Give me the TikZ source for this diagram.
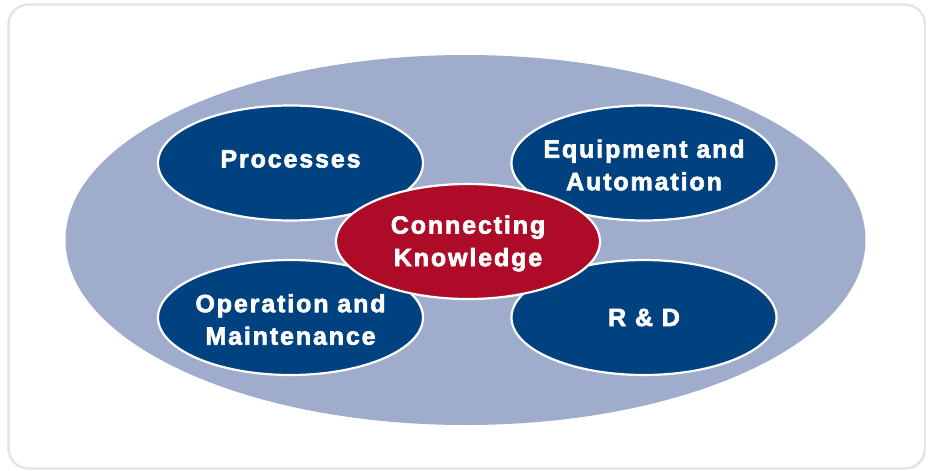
\documentclass[tikz,border=0pt]{standalone}
\usepackage{fontspec}
\setmainfont{Liberation Sans}
\newfontfamily\lblfont{Liberation Sans}[UprightFont=*-Bold, LetterSpace=7.5, FakeBold=2.5]
\usetikzlibrary{shapes.geometric}
\definecolor{framegray}{RGB}{228,228,228}
\definecolor{outerblue}{RGB}{160,172,204}
\definecolor{darkblue}{RGB}{0,65,128}
\definecolor{darkred}{RGB}{174,11,40}
\tikzset{
  outerell/.style={ellipse, fill=outerblue, draw=none, minimum width=800pt, minimum height=370pt, inner sep=0pt},
  blueell/.style={ellipse, fill=darkblue, draw=white, line width=2.2pt, minimum width=265pt, minimum height=115pt, inner sep=0pt},
  redell/.style={ellipse, fill=darkred, draw=white, line width=2.2pt, minimum width=264pt, minimum height=115pt, inner sep=0pt},
  lbl/.style={text=white, align=center, inner sep=0pt,
    font={\lblfont\fontsize{25}{32.5}\selectfont}},
}
\begin{document}
\begin{tikzpicture}[x=1pt,y=-1pt]
\useasboundingbox (0,0) rectangle (930,471);
\draw[framegray, line width=2.4pt, rounded corners=20pt] (8.5,4.5) rectangle (925,468.5);
\node[outerell] (outer) at (465.5,240) {};
\node[blueell] (proc) at (290.5,163) {};
\node[blueell] (equip) at (644,163) {};
\node[blueell] (oper) at (290.5,317.5) {};
\node[blueell] (rd) at (644,317.5) {};
\node[redell] (conn) at (468,241.5) {};
\node[lbl] (proct) at ([yshift=4pt]proc.center) {Processes};
\node[lbl] (equipt) at ([yshift=-2pt]equip.center) {Equipment and\\Automation};
\node[lbl] (opert) at ([yshift=-2pt]oper.center) {Operation and\\Maintenance};
\node[lbl] (rdt) at ([yshift=0pt]rd.center) {R \& D};
\node[lbl] (connt) at ([yshift=-2pt]conn.center) {Connecting\\Knowledge};
\end{tikzpicture}
\end{document}
